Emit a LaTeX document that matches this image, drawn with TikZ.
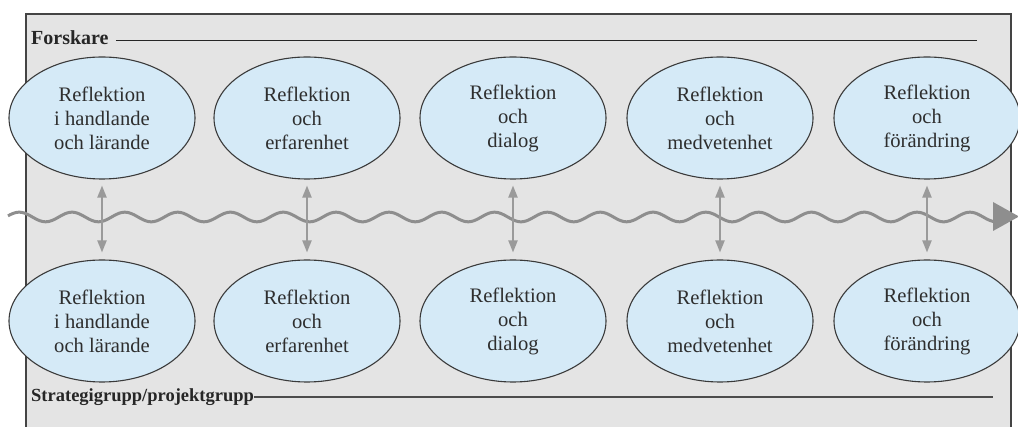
\documentclass[tikz,border=0pt]{standalone}
\usepackage{fontspec}
\setmainfont{Liberation Serif}
\usetikzlibrary{arrows.meta,shapes.geometric}
\definecolor{framebg}{HTML}{E4E4E4}
\definecolor{framedraw}{HTML}{444444}
\definecolor{ellfill}{HTML}{D5EAF7}
\definecolor{elldraw}{HTML}{3A3A3A}
\definecolor{wavecol}{HTML}{8E8E8E}
\definecolor{arrcol}{HTML}{9A9A9A}
\definecolor{txtcol}{HTML}{2E2E2E}
\tikzset{
  refl/.style={ellipse, draw=elldraw, line width=1.1pt, fill=ellfill, minimum width=186pt, minimum height=122pt, inner sep=0pt, align=center, text=txtcol, font=\fontsize{20.6}{24}\selectfont},
  grouplabel/.style={anchor=base west, inner sep=0pt, font=\fontsize{18.5}{22}\selectfont\bfseries, text=black!85},
  wave/.style={draw=wavecol, line width=3pt},
  biarrow/.style={draw=arrcol, line width=2pt, {Triangle[width=9pt,length=12pt]}-{Triangle[width=9pt,length=12pt]}, shorten <=6pt, shorten >=7pt},
}
\begin{document}
\begin{tikzpicture}[x=1pt,y=-1pt]
\useasboundingbox (0,0) rectangle (1018,427);
% frame
\path[fill=framebg, draw=framedraw, line width=1.4pt] (26,14) rectangle (1011,445);
% group labels and lines
\node[grouplabel, font=\fontsize{20}{24}\selectfont\bfseries] (forskare) at (31,45) {Forskare};
\coordinate (fend) at (977,41);
\draw[black!85, line width=1pt] (forskare.east|-fend) ++(7pt,0) -- (fend);
\node[grouplabel] (strat) at (31,402) {Strategigrupp/projektgrupp};
\coordinate (send) at (993,397);
\draw[black!70, line width=1.5pt] (strat.east|-send) -- (send);
% wave
\draw[wave] plot[domain=8:994, samples=500, smooth] (\x, {217 - 4.8*sin(((\x-58.8)/52.82)*360)}) coordinate (wend);
\fill[wavecol] (993,202) -- (1019,216.5) -- (993,231) -- cycle;
% ellipses
\foreach \i/\x/\t in {1/102/{Reflektion\\i handlande\\och lärande},2/307/{Reflektion\\och\\erfarenhet},3/513/{Reflektion\\och\\dialog},4/720/{Reflektion\\och\\medvetenhet},5/927/{Reflektion\\och\\förändring}}{
  \node[refl] (t\i) at (\x,118) {\t};
  \node[refl] (b\i) at (\x,321) {\t};
  \draw[biarrow] (t\i.south) -- (b\i.north);
}
\end{tikzpicture}
\end{document}
